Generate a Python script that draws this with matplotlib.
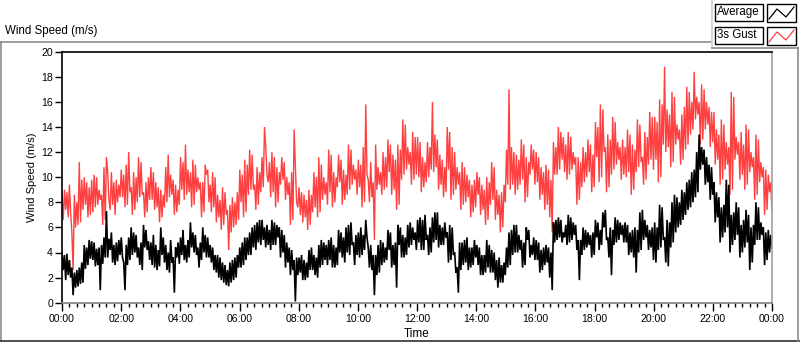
import numpy as np
import matplotlib
matplotlib.use("Agg")
import matplotlib.pyplot as plt
from matplotlib.lines import Line2D
from matplotlib.patches import Rectangle

# ---- data (2.5-minute samples, one row per hour) ----
average = [
    4.0, 2.6, 3.8, 1.8, 3.9, 2.2, 3.4, 2.0, 2.8, 0.6, 2.4, 1.2, 2.6, 1.3, 2.8, 1.5, 3.2, 1.6, 4.6, 2.7, 4.4, 3.0, 5.0, 3.5,
    4.9, 3.4, 4.8, 2.9, 4.3, 3.0, 4.4, 1.0, 4.6, 3.1, 5.2, 3.6, 7.3, 3.6, 5.1, 4.2, 5.6, 3.2, 4.6, 3.0, 4.8, 3.3, 5.0, 3.8,
    5.2, 3.6, 3.2, 1.0, 4.6, 3.0, 5.2, 3.4, 6.0, 3.8, 5.6, 4.0, 5.4, 3.6, 4.4, 3.0, 4.8, 2.6, 6.2, 4.4, 5.8, 4.2, 4.9, 3.4,
    4.8, 3.0, 5.4, 2.8, 4.6, 2.6, 4.2, 2.9, 6.0, 3.8, 5.2, 3.2, 4.6, 2.6, 4.0, 2.4, 5.0, 3.2, 3.6, 0.8, 4.4, 3.6, 4.8, 3.1,
    5.2, 3.8, 5.8, 3.4, 4.6, 3.2, 5.0, 3.6, 6.4, 4.4, 5.6, 4.0, 5.4, 3.8, 4.4, 2.8, 4.8, 3.4, 6.0, 4.0, 5.4, 3.6, 5.2, 3.6,
    4.6, 3.2, 4.4, 2.6, 3.8, 2.4, 3.8, 2.0, 3.6, 1.8, 3.2, 1.6, 3.0, 1.4, 2.6, 1.3, 3.2, 1.6, 3.4, 1.8, 3.6, 2.0, 3.8, 2.8,
    4.4, 2.8, 4.8, 3.0, 5.2, 3.4, 5.2, 3.8, 5.6, 3.8, 6.0, 4.4, 6.2, 4.2, 6.4, 4.8, 6.6, 4.6, 6.6, 5.0, 6.0, 4.4, 6.2, 4.6,
    5.8, 4.2, 6.6, 4.6, 6.4, 4.6, 6.2, 5.2, 6.0, 3.6, 5.8, 4.0, 5.4, 2.8, 4.8, 3.2, 4.4, 2.2, 4.2, 2.6, 3.4, 0.1, 3.6, 2.2,
    3.6, 2.4, 3.8, 1.8, 3.4, 1.8, 3.2, 2.0, 4.2, 2.6, 4.4, 2.6, 3.8, 2.2, 3.6, 2.0, 4.6, 2.8, 5.0, 3.0, 4.8, 3.4, 4.6, 3.0,
    5.0, 3.4, 5.2, 2.8, 4.6, 2.8, 4.4, 3.0, 5.8, 4.0, 5.6, 3.6, 5.2, 3.2, 6.0, 4.0, 6.2, 3.8, 6.4, 4.6, 4.8, 3.0, 5.4, 3.8,
    5.6, 3.6, 6.0, 3.8, 5.4, 4.2, 6.6, 5.2, 4.4, 2.8, 4.6, 2.6, 3.8, 0.6, 3.8, 2.2, 4.6, 2.4, 5.0, 3.0, 4.8, 3.2, 4.4, 3.4,
    5.8, 4.2, 5.6, 2.8, 4.6, 3.0, 4.8, 1.2, 6.2, 4.6, 6.0, 3.6, 5.4, 3.6, 5.2, 3.8, 6.2, 4.4, 6.4, 4.6, 6.0, 5.0, 5.6, 4.2,
    6.6, 4.8, 6.8, 4.2, 6.6, 4.2, 7.0, 5.0, 5.4, 3.8, 6.0, 4.0, 6.8, 4.8, 7.2, 5.0, 7.2, 4.4, 6.2, 4.6, 6.0, 4.6, 6.4, 5.2,
    5.6, 3.2, 6.2, 3.4, 6.0, 3.8, 4.0, 2.4, 2.8, 0.8, 4.8, 2.6, 4.8, 3.0, 5.0, 3.2, 5.2, 2.6, 4.4, 2.8, 4.4, 3.0, 5.0, 3.6,
    4.6, 3.0, 4.4, 2.2, 3.8, 2.2, 3.8, 2.4, 5.0, 2.8, 4.6, 2.4, 4.2, 2.4, 4.0, 1.8, 3.4, 1.2, 3.6, 1.6, 3.0, 1.6, 3.2, 2.2,
    4.4, 2.8, 5.6, 3.0, 5.8, 3.8, 6.2, 4.0, 6.2, 4.0, 5.4, 4.2, 5.0, 2.8, 4.8, 3.0, 6.0, 5.0, 5.8, 3.6, 4.6, 3.8, 5.2, 3.4,
    5.0, 3.4, 4.8, 2.4, 4.2, 2.6, 4.4, 3.0, 4.6, 3.2, 4.4, 2.0, 4.0, 1.0, 6.4, 4.8, 6.6, 5.0, 6.8, 5.2, 6.6, 4.8, 5.6, 5.2,
    6.2, 4.6, 7.0, 4.8, 6.8, 5.0, 6.4, 5.4, 6.2, 4.2, 5.0, 1.8, 5.0, 3.8, 6.0, 4.2, 5.8, 4.4, 5.6, 4.6, 5.4, 3.6, 5.6, 3.8,
    6.6, 5.2, 6.4, 4.2, 5.8, 4.6, 7.2, 6.0, 7.4, 5.0, 5.2, 3.6, 6.0, 2.2, 5.8, 4.6, 6.8, 4.8, 6.6, 5.0, 6.4, 5.4, 6.2, 4.8,
    6.4, 4.8, 6.2, 3.8, 5.6, 4.0, 5.8, 3.6, 6.0, 2.4, 5.8, 4.0, 7.2, 4.2, 7.4, 5.0, 6.6, 5.2, 6.2, 4.2, 5.8, 4.4, 6.0, 3.4,
    6.4, 3.2, 6.0, 4.2, 7.8, 4.4, 7.6, 5.0, 5.2, 3.2, 6.6, 2.9, 6.4, 4.4, 8.0, 4.8, 8.6, 5.6, 8.4, 6.0, 8.0, 6.2, 9.0, 6.6,
    8.8, 7.0, 9.6, 7.4, 9.8, 7.6, 10.4, 8.0, 10.6, 8.4, 12.0, 8.8, 13.4, 10.6, 12.4, 11.0, 12.2, 9.4, 11.6, 9.6, 11.0, 8.2, 10.8, 8.6,
    9.6, 6.4, 8.8, 6.8, 8.4, 4.8, 7.6, 5.2, 7.8, 5.6, 9.8, 6.0, 9.4, 4.0, 7.0, 4.6, 7.2, 5.0, 8.0, 5.4, 7.6, 3.6, 6.2, 4.0,
    6.6, 4.4, 7.4, 4.8, 7.0, 2.6, 6.0, 3.2, 6.2, 4.6, 8.0, 5.0, 7.6, 5.0, 6.4, 5.4, 6.0, 3.0, 5.6, 3.4, 5.8, 4.0, 5.4, 4.4,
]
gust = [
    8.6, 6.6, 9.0, 7.4, 8.8, 6.8, 9.4, 7.2, 5.6, 2.6, 8.6, 6.0, 8.0, 6.2, 11.2, 6.4, 9.8, 7.4, 10.0, 7.8, 9.6, 6.8, 9.2, 7.0,
    9.8, 7.2, 10.2, 7.6, 10.0, 7.8, 9.0, 8.2, 8.6, 6.2, 10.8, 6.6, 11.6, 10.4, 8.2, 7.4, 10.4, 7.8, 9.6, 7.0, 9.8, 8.0, 9.4, 8.4,
    10.6, 8.4, 10.2, 7.6, 11.0, 7.8, 12.0, 8.8, 9.2, 7.0, 10.4, 7.4, 10.0, 8.0, 11.6, 8.4, 11.2, 8.6, 8.8, 6.8, 9.6, 7.2, 10.0, 8.2,
    10.8, 8.2, 10.4, 7.4, 9.6, 7.6, 9.2, 6.4, 9.0, 6.8, 8.6, 7.6, 10.8, 8.0, 11.8, 8.4, 10.2, 8.6, 9.8, 7.0, 9.4, 7.2, 9.0, 7.8,
    11.6, 9.0, 11.2, 8.2, 12.6, 8.6, 10.6, 8.8, 10.4, 7.6, 11.4, 7.8, 11.0, 8.8, 10.0, 9.0, 9.6, 6.8, 9.6, 7.2, 11.0, 10.2, 10.6, 8.0,
    9.4, 7.2, 10.4, 7.6, 10.0, 6.4, 8.6, 6.8, 8.2, 5.8, 9.2, 6.2, 8.8, 7.0, 7.4, 4.2, 7.8, 5.6, 8.4, 6.0, 8.0, 6.2, 8.8, 6.6,
    10.6, 8.0, 10.2, 6.8, 11.4, 7.2, 11.0, 8.6, 12.2, 9.0, 11.8, 9.0, 9.4, 7.4, 10.8, 7.8, 10.4, 8.8, 11.6, 9.2, 14.0, 12.4, 10.2, 9.6,
    11.2, 8.4, 12.0, 8.8, 11.6, 7.6, 10.8, 8.0, 10.4, 9.4, 11.6, 9.8, 11.2, 8.2, 10.0, 8.6, 9.6, 6.2, 10.4, 6.6, 13.8, 11.0, 8.0, 7.6,
    9.2, 7.0, 8.8, 6.4, 8.6, 6.8, 8.2, 5.8, 9.0, 6.2, 8.6, 7.2, 10.4, 7.6, 10.0, 6.8, 11.6, 7.2, 11.0, 8.2, 10.0, 8.6, 9.6, 7.8,
    12.2, 8.8, 11.8, 7.6, 10.4, 8.0, 10.0, 9.2, 11.8, 9.6, 11.4, 7.8, 10.6, 8.2, 10.2, 8.6, 12.6, 9.0, 12.2, 9.4, 11.0, 9.8, 10.6, 8.6,
    11.4, 9.2, 11.0, 7.6, 12.4, 8.0, 15.8, 10.2, 9.8, 8.0, 11.2, 8.4, 9.6, 5.0, 12.6, 9.0, 10.8, 9.4, 10.4, 8.6, 12.0, 9.0, 11.6, 9.2,
    13.0, 10.4, 12.6, 8.6, 11.8, 9.0, 11.4, 7.4, 12.6, 7.8, 12.2, 9.8, 14.6, 10.2, 14.2, 10.6, 12.4, 11.0, 12.0, 9.4, 13.6, 9.8, 13.2, 10.2,
    13.2, 10.0, 12.8, 8.8, 11.6, 9.2, 11.2, 9.6, 12.8, 10.0, 12.4, 10.6, 16.0, 10.4, 13.4, 10.8, 13.0, 9.0, 11.8, 9.4, 11.4, 8.4, 10.8, 8.8,
    14.0, 10.6, 13.6, 8.2, 12.4, 8.6, 12.0, 9.0, 10.8, 9.4, 10.4, 7.4, 11.2, 7.8, 10.8, 8.0, 10.2, 8.4, 9.8, 6.8, 9.4, 7.2, 9.8, 7.6,
    10.4, 8.6, 10.0, 7.0, 9.4, 7.4, 9.0, 6.2, 10.0, 6.6, 9.6, 7.8, 11.2, 8.2, 10.8, 6.6, 9.0, 7.0, 8.6, 5.6, 8.8, 6.0, 9.4, 8.0,
    12.2, 9.4, 17.0, 9.0, 12.4, 9.4, 12.0, 8.6, 11.8, 9.0, 11.4, 9.4, 13.0, 9.8, 12.6, 8.0, 11.6, 8.4, 11.2, 10.2, 12.6, 10.6, 12.2, 9.4,
    12.0, 9.6, 11.6, 8.2, 10.8, 8.6, 10.4, 7.4, 11.0, 7.8, 10.6, 6.8, 9.8, 5.6, 12.8, 10.2, 12.4, 10.2, 14.0, 10.6, 13.6, 11.4, 13.2, 10.4,
    12.6, 9.8, 13.6, 10.2, 13.2, 10.6, 12.0, 11.0, 11.6, 7.8, 11.6, 8.2, 11.2, 9.2, 12.4, 9.6, 12.0, 10.0, 13.0, 10.4, 12.6, 8.8, 11.8, 9.2,
    14.4, 11.6, 14.0, 9.6, 15.8, 10.0, 15.4, 12.0, 12.4, 8.8, 13.4, 9.2, 13.0, 10.2, 14.8, 10.6, 14.4, 11.0, 12.8, 11.4, 12.4, 9.8, 13.0, 10.2,
    12.4, 10.0, 13.8, 10.4, 13.4, 8.6, 12.6, 9.0, 12.2, 10.4, 14.6, 10.8, 14.2, 11.2, 11.6, 9.4, 13.6, 9.8, 13.2, 11.0, 15.2, 11.4, 14.8, 10.6,
    14.8, 11.4, 14.4, 9.6, 16.2, 10.0, 15.8, 12.6, 18.8, 12.0, 15.4, 12.4, 15.0, 10.8, 16.8, 11.2, 16.4, 12.6, 14.2, 13.0, 13.8, 11.0, 15.0, 11.4,
    15.6, 12.2, 17.2, 12.6, 16.8, 13.4, 16.0, 13.8, 18.4, 14.6, 16.4, 15.0, 16.0, 12.6, 17.4, 13.0, 17.0, 13.8, 16.0, 14.2, 15.6, 12.4, 15.2, 12.8,
    15.2, 11.0, 13.8, 11.4, 13.4, 9.4, 14.6, 9.8, 14.2, 10.6, 12.8, 11.0, 12.4, 8.6, 16.8, 9.0, 16.4, 11.4, 13.2, 11.8, 12.8, 9.8, 13.6, 10.2,
    12.6, 9.0, 14.2, 9.4, 13.8, 10.4, 12.0, 10.8, 11.6, 8.2, 13.4, 8.6, 13.0, 9.6, 11.2, 10.0, 10.8, 7.0, 10.6, 7.4, 10.2, 8.8, 9.6, 7.2,
]
x_tick_labels = ["00:00", "02:00", "04:00", "06:00", "08:00", "10:00", "12:00",
                 "14:00", "16:00", "18:00", "20:00", "22:00", "00:00"]
y_ticks = [0, 2, 4, 6, 8, 10, 12, 14, 16, 18, 20]
series_names = ["Average", "3s Gust"]

hours = np.linspace(0, 24, len(average))

W, H = 800, 342
fig = plt.figure(figsize=(W / 100, H / 100), dpi=100)
fig.patch.set_facecolor("white")
FONT = "Liberation Sans"

def fx(px):
    return px / W

def fy(py):
    return 1 - py / H

ax = fig.add_axes([fx(62), fy(302.7), fx(772) - fx(62), fy(51.7) - fy(302.7)])
red = "#ff4040"
ax.plot(hours, gust, color=red, lw=1.0, solid_joinstyle="miter")
ax.plot(hours, average, color="black", lw=1.2, solid_joinstyle="miter")

ax.set_xlim(0, 24)
ax.set_ylim(0, 20)
ax.set_xticks(np.arange(0, 25, 2))
ax.set_xticklabels(x_tick_labels, fontfamily=FONT, fontsize=7.6)
ax.set_xticks(np.arange(0, 24.01, 0.25), minor=True)
ax.set_yticks(y_ticks)
ax.set_yticklabels([str(v) for v in y_ticks], fontfamily=FONT, fontsize=7.6)
ax.tick_params(axis="x", which="major", length=6, width=1, direction="out", pad=2)
ax.tick_params(axis="x", which="minor", length=3, width=1, direction="out")
ax.tick_params(axis="y", which="major", length=5, width=1, direction="out", pad=1.5)

ax.spines["left"].set_color("black")
ax.spines["top"].set_color("black")
ax.spines["right"].set_color("#a0a0a0")
ax.spines["bottom"].set_color("#808080")
for s in ax.spines.values():
    s.set_linewidth(1.2)

ax.set_ylabel("Wind Speed (m/s)", fontfamily=FONT, fontsize=8)
ax.yaxis.set_label_coords((37 - 62) / 710, 0.5)
ax.set_xlabel("Time", fontfamily=FONT, fontsize=8.5)
ax.xaxis.set_label_coords(0.5, -(328 - 302.7) / 251)

# outer frame / title
fig.text(fx(5), fy(31), "Wind Speed (m/s)", fontfamily=FONT, fontsize=8.3,
         ha="left", va="center")
gray = "#8c8c8c"
for (x0, y0, x1, y1, c) in [(0, 42, 711, 42, gray), (0.5, 42, 0.5, 341, gray),
                            (0, 341, 800, 341, "#303030"),
                            (712, 0, 712, 48, "#d0d0d0"),
                            (712, 48, 798, 48, gray), (798, 48, 798, 341, gray)]:
    fig.add_artist(Line2D([fx(x0), fx(x1)], [fy(y0), fy(y1)], color=c, lw=1.2))

# legend
for i, (name, col) in enumerate(zip(series_names, ["black", red])):
    top = 4 + i * 23
    fig.add_artist(Rectangle((fx(715), fy(top + 17)), fx(48), 17 / H,
                             fill=False, ec="black", lw=1.0))
    fig.text(fx(717), fy(top + 8.5), name, fontfamily=FONT, fontsize=8.3,
             ha="left", va="center")
    fig.add_artist(Rectangle((fx(767), fy(top + 18)), fx(29), 18 / H,
                             fill=False, ec="black", lw=1.0))
    xs = [769, 777, 786, 794]
    ys = [top + 15, top + 5, top + 13, top + 3]
    fig.add_artist(Line2D([fx(v) for v in xs], [fy(v) for v in ys],
                          color=col, lw=0.9))

fig.savefig("out.png", dpi=100, facecolor="white")
